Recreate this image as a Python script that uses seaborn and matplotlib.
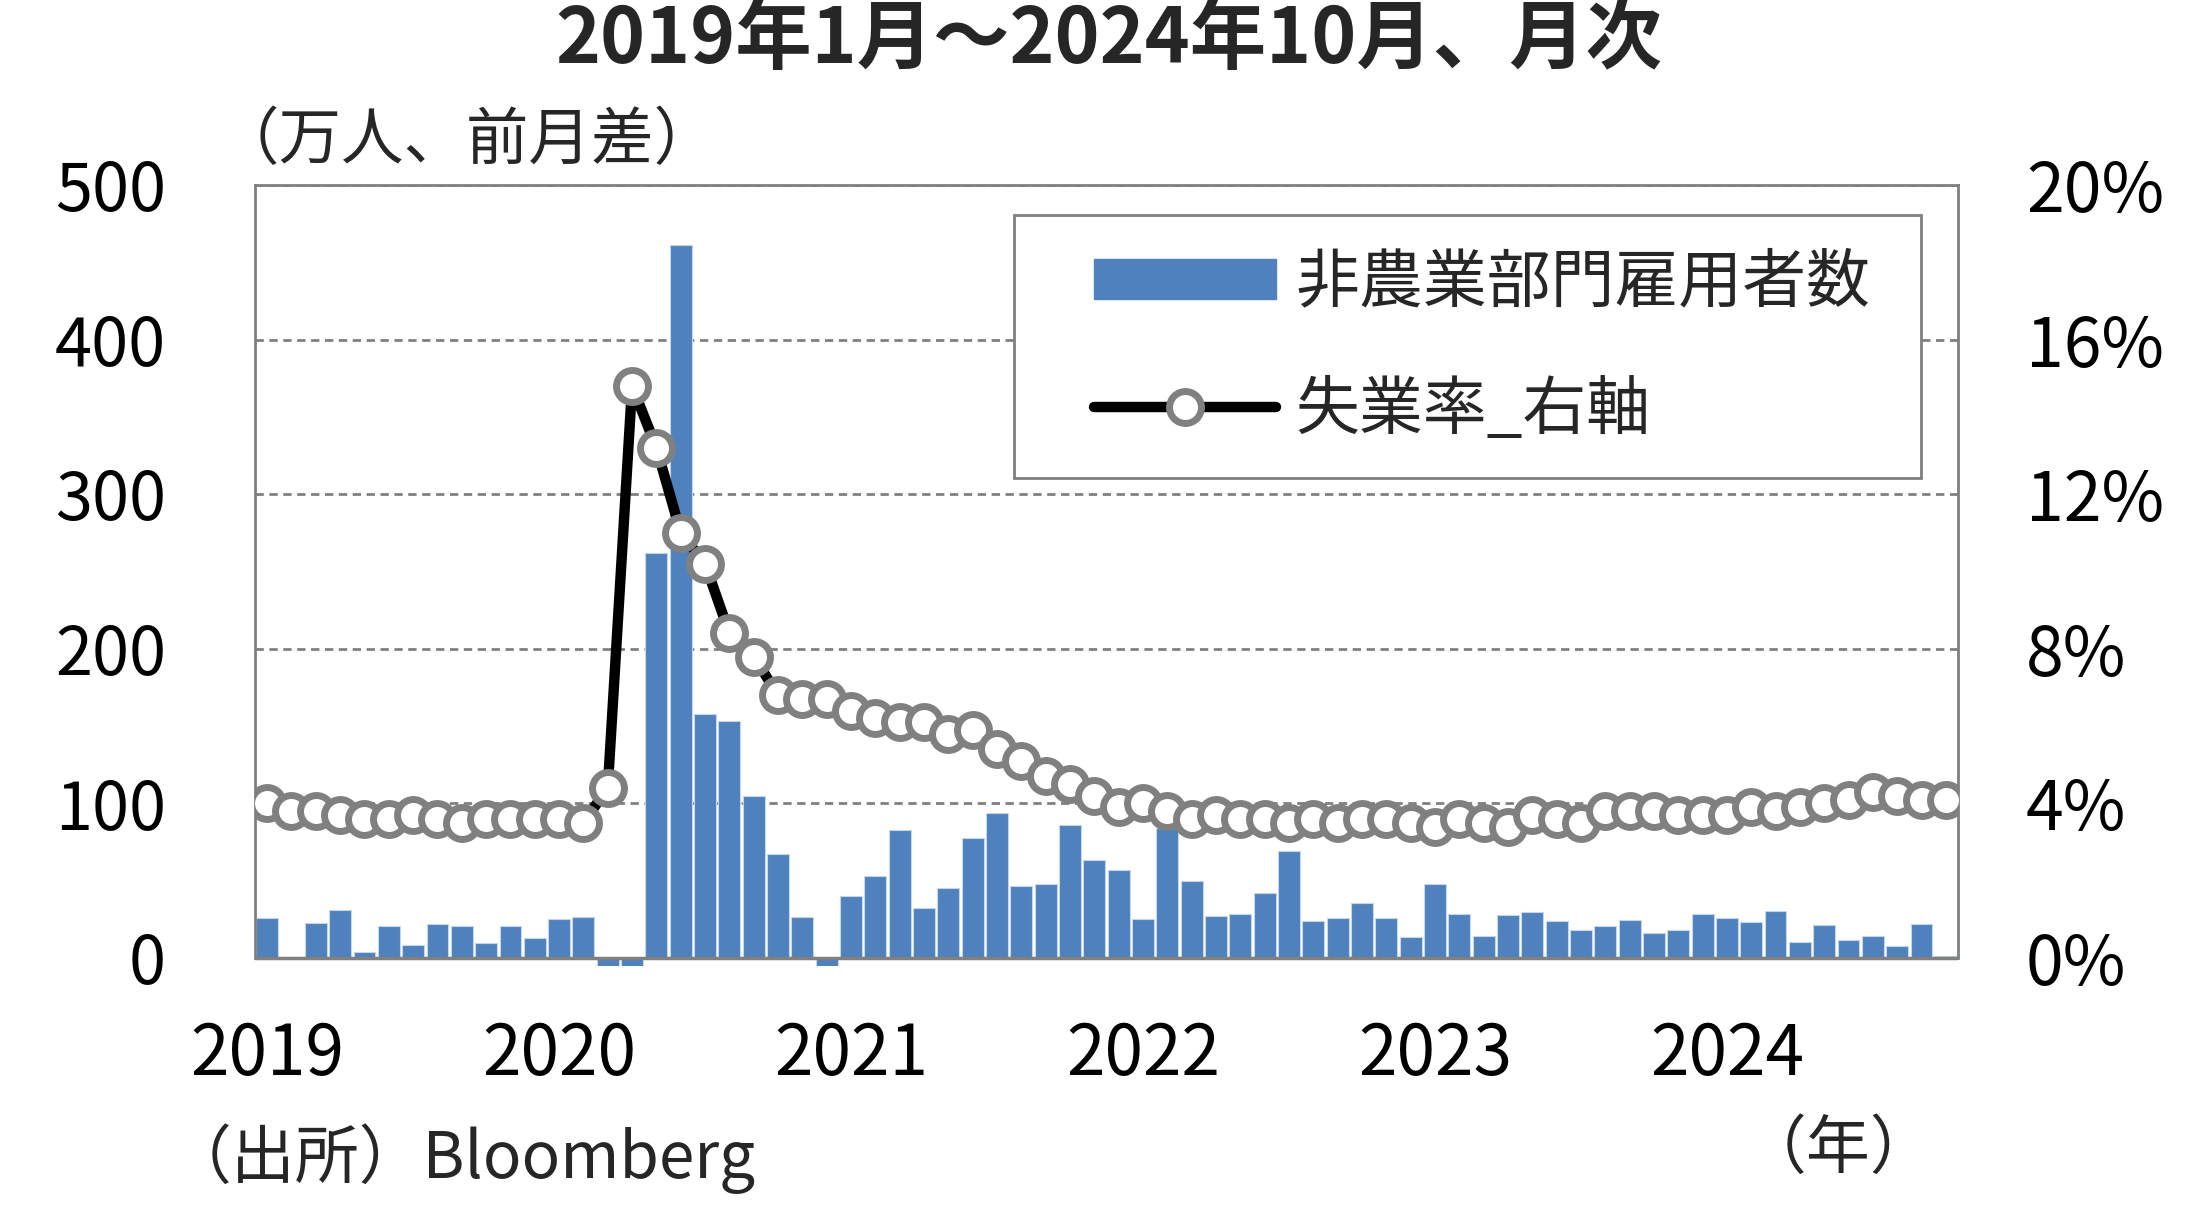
import numpy as np
import pandas as pd
import seaborn as sns
import matplotlib.pyplot as plt
from matplotlib.patches import Patch, Rectangle
from matplotlib.lines import Line2D

# data, monthly Jan 2019 - Oct 2024
year_labels = ['2019', '2020', '2021', '2022', '2023', '2024']

# 非農業部門雇用者数 (万人、前月差)
payrolls = [
    26.0, 0.5, 22.8, 31.0, 3.7, 20.4, 8.7, 22.1, 20.4, 10.0, 20.8, 12.6,
    25.2, 26.5, -148.7, -2047.7, 261.7, 461.4, 157.9, 153.0, 104.8, 67.5, 26.7, -26.8,
    39.9, 52.7, 83.1, 32.0, 45.3, 77.9, 93.9, 46.6, 47.9, 85.9, 63.1, 56.6,
    25.2, 84.0, 49.5, 26.9, 28.4, 41.9, 69.2, 24.1, 25.6, 35.8, 26.0, 13.4,
    47.9, 28.6, 14.5, 27.8, 29.9, 23.7, 18.3, 20.8, 24.3, 16.1, 17.8, 28.6,
    25.6, 23.2, 30.6, 10.4, 21.5, 11.5, 14.3, 7.8, 22.1, 1.2,
]

# 失業率 (%)
unemployment = [
    4.0, 3.8, 3.8, 3.7, 3.6, 3.6, 3.7, 3.6, 3.5, 3.6, 3.6, 3.6,
    3.6, 3.5, 4.4, 14.8, 13.2, 11.0, 10.2, 8.4, 7.8, 6.8, 6.7, 6.7,
    6.4, 6.2, 6.1, 6.1, 5.8, 5.9, 5.4, 5.1, 4.7, 4.5, 4.2, 3.9,
    4.0, 3.8, 3.6, 3.7, 3.6, 3.6, 3.5, 3.6, 3.5, 3.6, 3.6, 3.5,
    3.4, 3.6, 3.5, 3.4, 3.7, 3.6, 3.5, 3.8, 3.8, 3.8, 3.7, 3.7,
    3.7, 3.9, 3.8, 3.9, 4.0, 4.1, 4.3, 4.2, 4.1, 4.1,
]

df = pd.DataFrame({'month': np.arange(len(payrolls)),
                   'payrolls': payrolls,
                   'unemp': unemployment})

sns.set_theme(style='white')
plt.rcParams['font.family'] = ['Noto Sans CJK JP', 'DejaVu Sans']

bar_blue = '#4F81BD'
gray = '#808080'

fig = plt.figure(figsize=(22.09, 12.22), dpi=100)
ax = fig.add_axes([0.11544, 0.20974, 0.77094, 0.63887])

sns.barplot(data=df, x='month', y='payrolls', color=bar_blue, saturation=1,
            width=0.9, edgecolor='#C5D5EA', linewidth=0.8, errorbar=None, ax=ax)

ax2 = ax.twinx()
sns.lineplot(data=df, x='month', y='unemp', ax=ax2, color='black', lw=7.5,
             marker='o', markersize=23, markerfacecolor='white',
             markeredgecolor=gray, markeredgewidth=5,
             solid_joinstyle='round', solid_capstyle='round', legend=False)

ax.set_xlim(-0.5, len(payrolls) - 0.5)
ax.set_ylim(-5, 500)
ax2.set_ylim(-0.2, 20)

ax.set_yticks(range(0, 501, 100))
ax.set_xticks([12 * i for i in range(len(year_labels))])
ax.set_xticklabels(year_labels)
ax2.set_yticks(range(0, 21, 4))
ax2.set_yticklabels([f'{v}%' for v in range(0, 21, 4)])

ax.set_xlabel('')
ax.set_ylabel('')
ax2.set_xlabel('')
ax2.set_ylabel('')

ax.yaxis.grid(True, linestyle=(0, (3, 2)), color=gray, linewidth=2)
ax.set_axisbelow(True)
ax.axhline(0, color=gray, lw=2.5, zorder=3)

for side in ['left', 'right', 'top']:
    ax.spines[side].set_color(gray)
    ax.spines[side].set_linewidth(2)
ax.spines['left'].set_bounds(0, 500)
ax.spines['right'].set_bounds(0, 500)
ax.spines['bottom'].set_visible(False)
for side in ax2.spines:
    ax2.spines[side].set_visible(False)

ax.tick_params(axis='y', length=0, pad=64, labelsize=48, labelcolor='black')
ax.tick_params(axis='x', length=0, pad=39, labelsize=50, labelcolor='black')
ax2.tick_params(axis='y', length=0, pad=49, labelsize=49, labelcolor='black')

# title and notes
fig.text(0.502, 0.967, '2019年1月～2024年10月、月次', ha='center', va='center',
         fontsize=55, fontweight='bold')
fig.text(0.098, 0.8846, '（万人、前月差）', ha='left', va='center', fontsize=45)
fig.text(0.076, 0.052, '（出所）Bloomberg', ha='left', va='center', fontsize=46)
fig.text(0.789, 0.059, '（年）', ha='left', va='center', fontsize=46)

# legend box
fig.patches.append(Rectangle((0.4590, 0.6088), 0.4106, 0.2152, transform=fig.transFigure,
                             facecolor='white', edgecolor=gray, linewidth=2, zorder=4))
handles = [
    Patch(facecolor=bar_blue, edgecolor=bar_blue),
    Line2D([], [], color='black', lw=7.5, marker='o', markersize=23,
           markerfacecolor='white', markeredgecolor=gray, markeredgewidth=5,
           solid_capstyle='round'),
]
fig.legend(handles, ['非農業部門雇用者数', '失業率_右軸'], loc='center left',
           bbox_to_anchor=(0.4953, 0.7160), frameon=False, borderpad=0,
           borderaxespad=0, fontsize=46, handlelength=2.85, handleheight=0.6,
           handletextpad=0.3, labelspacing=0.95)

fig.savefig('out.png', dpi=100)
